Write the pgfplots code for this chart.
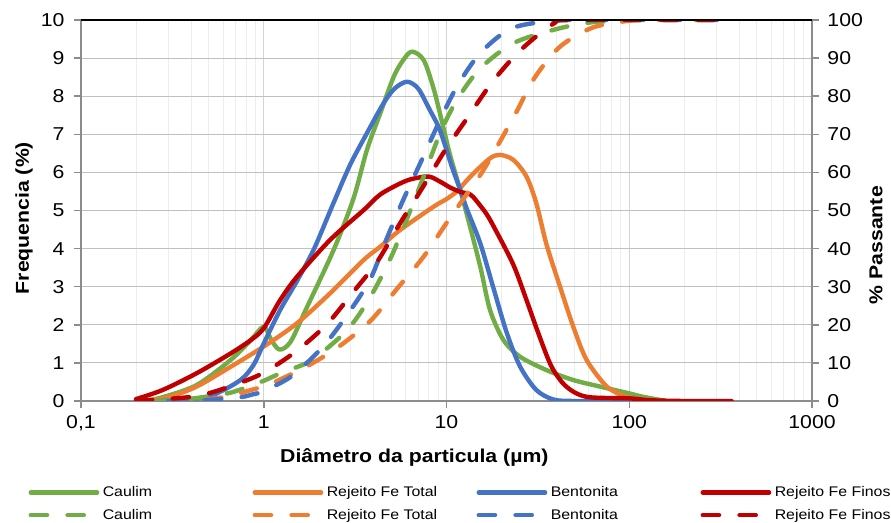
\documentclass[border=0pt]{standalone}
\usepackage{fontspec}
\setmainfont{Liberation Sans}[FakeStretch=1.14]
\usepackage{pgfplots}
\usepackage{pgfplotstable}
\pgfplotsset{compat=1.18}

\definecolor{cgreen}{HTML}{70AD47}
\definecolor{corange}{HTML}{ED7D31}
\definecolor{cblue}{HTML}{4472C4}
\definecolor{cred}{HTML}{C00000}
\definecolor{gridh}{HTML}{C0C0C0}
\definecolor{gridv}{HTML}{D4D4D4}
\definecolor{gridminor}{HTML}{EDEDED}
\definecolor{axisgray}{HTML}{8C8C8C}

\newcommand{\ticksize}{\fontsize{18.7}{22}\selectfont}
\newcommand{\labsize}{\fontsize{18.7}{22}\selectfont\bfseries}
\newcommand{\legsize}{\fontsize{14}{16}\selectfont}

% Frequency distributions (%)
\pgfplotstableread{
x y
0.22 0
0.28 0.1
0.43 0.42
0.66 1.08
0.85 1.6
1.0 1.95
1.1 1.6
1.22 1.35
1.4 1.55
1.7 2.4
2.41 3.96
3.09 5.3
3.67 6.59
4.34 7.55
5.13 8.5
5.8 8.95
6.47 9.17
7.5 8.95
8.5 8.2
9.4 7.37
10.4 6.5
11.6 5.71
12.6 5.1
15.3 3.53
17.3 2.39
20.5 1.6
25.3 1.16
35.3 0.81
49.4 0.55
69 0.38
100 0.2
119 0.11
160 0
}\caulimfreq

\pgfplotstableread{
x y
0.22 0
0.3 0.1
0.43 0.38
0.66 0.9
1.0 1.43
1.52 2.04
2.31 2.83
3.52 3.70
4.34 4.05
5.58 4.49
8.5 5.10
10 5.3
11.4 5.5
12.7 5.75
14.1 5.98
17.3 6.37
19.6 6.46
23.2 6.33
27.4 5.89
31 5.19
35.3 4.1
41.8 3.0
49.4 1.95
58.4 1.08
75.4 0.38
96.5 0.11
130 0.02
160 0
}\totalfreq

\pgfplotstableread{
x y
0.26 0
0.4 0.05
0.53 0.16
0.746 0.55
0.88 0.95
1.0 1.51
1.23 2.39
1.52 3.15
1.88 3.98
2.41 5.2
2.97 6.2
3.67 7.03
4.52 7.81
5.2 8.2
6.08 8.38
7.0 8.2
8.1 7.64
9.2 7.11
10.7 6.15
11.9 5.54
12.9 5.05
15.3 4.14
18.1 2.95
21.4 1.78
25.3 0.9
31 0.29
38.4 0.04
50 0
100 0
}\bentfreq

\pgfplotstableread{
x y
0.2 0.05
0.28 0.29
0.43 0.73
0.66 1.25
0.85 1.6
1.0 1.91
1.23 2.65
1.52 3.26
2.31 4.23
3.52 5.01
4.34 5.42
5.58 5.71
6.5 5.83
8.0 5.89
9.2 5.76
10.5 5.6
11.9 5.49
13.5 5.42
14.6 5.25
16.6 4.9
18.5 4.5
23.2 3.58
27.4 2.65
31.8 1.78
37.6 0.9
45.2 0.38
58.4 0.11
100 0.07
130 0.02
200 0
363 0
}\finosfreq

% Cumulative passing (%)
\pgfplotstableread{
x y
0.25 0
0.35 0.3
0.5 1.2
0.66 2.2
0.85 4.0
1.0 5.3
1.2 7.0
1.5 8.8
1.87 11
2.86 18.6
3.83 27.3
5.0 38
6.34 50
7.5 58.9
9.23 70.3
11.4 79
15.3 87.3
23.2 93.9
38.4 97.4
60 99.3
100 99.9
150 100
363 100
}\caulimcum

\pgfplotstableread{
x y
0.3 0
0.45 0.3
0.6 1.0
0.87 3.0
1.05 4.2
1.3 6.2
1.71 9
2.53 14
3.83 21
5.35 29.4
7.5 37.9
10 46.7
13 54.5
16.3 61.4
23.6 75
30.3 84.8
41.8 93
63 98
100 99.8
150 100
363 100
}\totalcum

\pgfplotstableread{
x y
0.3 0
0.45 0.2
0.58 0.5
0.75 1.0
0.88 1.8
1.0 2.6
1.43 6.6
2.12 14.4
2.9 23
3.83 32
4.65 42
5.8 52.8
7.33 63.3
9.05 72.9
11.4 82.5
15.3 91.3
22.7 97.8
38.4 99.8
60 100
363 100
}\bentcum

\pgfplotstableread{
x y
0.2 0
0.35 0.8
0.45 1.5
0.6 3.2
0.96 7
1.49 12.9
2.22 20.2
3.05 28.3
4.17 36.5
5.58 46.7
7.37 55.9
9.7 65.4
13 74.3
17.8 83.7
25.3 92
38.4 99
50 100
363 100
}\finoscum

\tikzset{
  freqline/.style={line width=4.4bp, line cap=round, line join=round, smooth},
  cumline/.style={line width=4.4bp, line cap=round, line join=round, smooth,
    dash pattern=on 16.3bp off 20.5bp},
}

\begin{document}
\begin{tikzpicture}
\path[use as bounding box] (0,0) rectangle (891bp,523bp);

% Primary axis: frequency
\begin{semilogxaxis}[
  scale only axis, width=731bp, height=381bp,
  at={(81bp,122bp)}, anchor=south west,
  xmin=0.1, xmax=1000, ymin=0, ymax=10,
  ytick={0,1,...,10},
  xtick={0.1,1,10,100,1000}, xticklabels={{0,1},1,10,100,1000},
  axis x line*=bottom, axis y line*=left,
  axis line style={draw=axisgray, line width=1.5bp},
  tick style={draw=axisgray, line width=1.5bp},
  major tick length=7bp, minor tick length=0pt,
  tick align=outside,
  ticklabel style={font=\ticksize},
  yticklabel style={xshift=-6bp},
  xticklabel style={yshift=-4bp},
  /pgf/number format/assume math mode=true,
  xmajorgrids, xminorgrids, ymajorgrids,
  major x grid style={color=gridv, line width=1bp},
  minor x grid style={color=gridminor, line width=1bp},
  major y grid style={color=gridh, line width=1bp},
  xlabel={Diâmetro da particula (µm)},
  xlabel style={font=\labsize, at={(axis description cs:0.456,-0.147)}, anchor=center},
  ylabel={Frequencia (\%)},
  ylabel style={font=\labsize, at={(axis description cs:-0.078,0.48)}, anchor=center},
]
\addplot[freqline, cgreen] table {\caulimfreq};
\addplot[freqline, corange] table {\totalfreq};
\addplot[freqline, cblue] table {\bentfreq};
\addplot[freqline, cred] table {\finosfreq};
\end{semilogxaxis}

% Secondary axis: cumulative passing
\begin{semilogxaxis}[
  scale only axis, width=731bp, height=381bp,
  at={(81bp,122bp)}, anchor=south west,
  xmin=0.1, xmax=1000, ymin=0, ymax=100,
  ytick={0,10,...,100},
  axis x line=none, axis y line*=right,
  axis line style={draw=axisgray, line width=1.5bp},
  tick style={draw=axisgray, line width=1.5bp},
  major tick length=7bp, minor tick length=0pt,
  tick align=outside,
  ticklabel style={font=\ticksize},
  yticklabel style={xshift=5bp},
  /pgf/number format/assume math mode=true,
  ylabel={\% Passante},
  ylabel style={font=\labsize, at={(axis description cs:1.0876,0.409)}, anchor=center},
  legend columns=4,
  legend cell align=left,
  legend image code/.code={\draw[#1] (0bp,0bp) -- (66.3bp,0bp);},
  legend style={at={(axis description cs:-0.072,-0.2245)}, anchor=north west,
    draw=none, fill=none, font=\legsize, inner sep=0pt, row sep=11bp,
    nodes={inner sep=0pt, outer sep=0pt},
    /tikz/every odd column/.append style={column sep=3.5bp},
    /tikz/every even column/.append style={column sep=33.8bp}},
]
\addlegendimage{freqline, cgreen}
\addlegendentry{\makebox[116bp][l]{\rule[-4bp]{0pt}{14bp}Caulim}}
\addlegendimage{freqline, corange}
\addlegendentry{\makebox[116bp][l]{\rule[-4bp]{0pt}{14bp}Rejeito Fe Total}}
\addlegendimage{freqline, cblue}
\addlegendentry{\makebox[116bp][l]{\rule[-4bp]{0pt}{14bp}Bentonita}}
\addlegendimage{freqline, cred}
\addlegendentry{\makebox[116bp][l]{\rule[-4bp]{0pt}{14bp}Rejeito Fe Finos}}
\addplot[cumline, cgreen] table {\caulimcum};
\addlegendentry{\makebox[116bp][l]{\rule[-4bp]{0pt}{14bp}Caulim}}
\addplot[cumline, corange] table {\totalcum};
\addlegendentry{\makebox[116bp][l]{\rule[-4bp]{0pt}{14bp}Rejeito Fe Total}}
\addplot[cumline, cblue] table {\bentcum};
\addlegendentry{\makebox[116bp][l]{\rule[-4bp]{0pt}{14bp}Bentonita}}
\addplot[cumline, cred] table {\finoscum};
\addlegendentry{\makebox[116bp][l]{\rule[-4bp]{0pt}{14bp}Rejeito Fe Finos}}
\draw[black, line width=2bp] (rel axis cs:0,1) -- (rel axis cs:1,1);
\end{semilogxaxis}
\end{tikzpicture}
\end{document}
